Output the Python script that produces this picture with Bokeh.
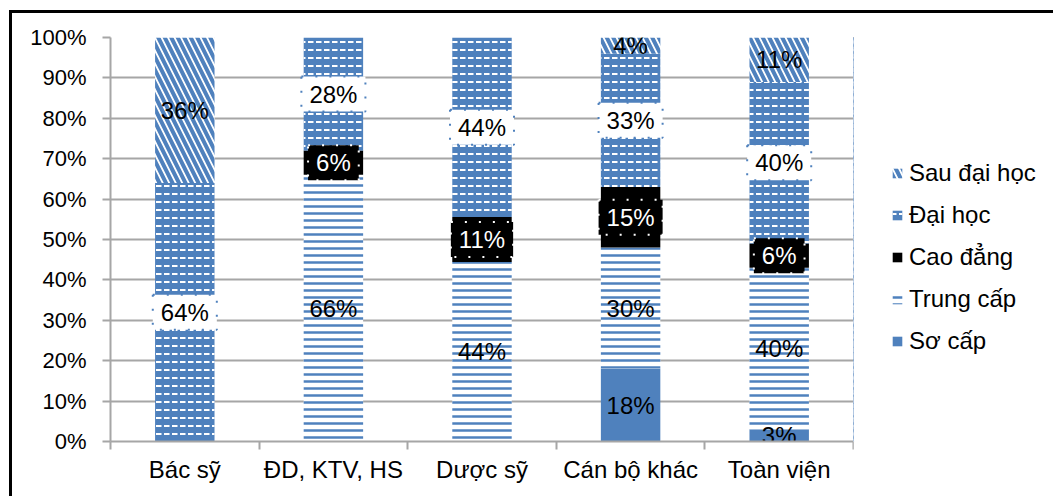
from bokeh.plotting import figure
from bokeh.layouts import row
from bokeh.models import (ColumnDataSource, Range1d, FixedTicker, PrintfTickFormatter,
                          Legend, LegendItem, Grid)
from bokeh.core.properties import value
from bokeh.embed import file_html
from bokeh.resources import INLINE

categories = ["Bác sỹ", "ĐD, KTV, HS", "Dược sỹ", "Cán bộ khác", "Toàn viện"]
so_cap = [0, 0, 0, 18, 3]
trung_cap = [0, 66, 44.4, 30, 40]
cao_dang = [0, 6, 11.2, 15, 6]
dai_hoc = [64, 28, 44.4, 33, 40]
sau_dai_hoc = [36, 0, 0, 4, 11]

series_keys = ["so_cap", "trung_cap", "cao_dang", "dai_hoc", "sau_dai_hoc"]
series_names = ["Sơ cấp", "Trung cấp", "Cao đẳng", "Đại học", "Sau đại học"]
series_vals = [so_cap, trung_cap, cao_dang, dai_hoc, sau_dai_hoc]

BLUE = "#4F81BD"
GRID = "#A6A6A6"
FONT = "Liberation Sans"

xpos = [i + 0.5 for i in range(len(categories))]
data = {"x": xpos}
for k, v in zip(series_keys, series_vals):
    data[k] = v
src = ColumnDataSource(data)

p = figure(width=845, height=483, x_range=Range1d(0, 5), y_range=Range1d(0, 100),
           output_backend="svg", toolbar_location=None,
           min_border_left=98, min_border_right=4, min_border_top=24, min_border_bottom=55)
p.outline_line_color = None
p.background_fill_color = "white"
p.border_fill_color = "white"

styles = dict(
    fill_color=[BLUE, "white", "black", BLUE, "white"],
    hatch_pattern=[None, "horizontal_line", None, "horizontal_dash", "left_diagonal_line"],
    hatch_color=[BLUE, BLUE, "black", "white", BLUE],
    hatch_scale=[8, 7, 8, 8, 13],
    hatch_weight=[1, 2.5, 1, 2, 4],
)
renderers = p.vbar_stack(series_keys, x="x", width=0.4, source=src, line_color=None, **styles)

# data labels
box_pad = dict(left=8, right=8, top=4, bottom=4)
label_cfg = {
    "so_cap": dict(text_color="black"),
    "trung_cap": dict(text_color="black"),
    "cao_dang": dict(text_color="white", background_fill_color="black", padding=box_pad,
                     border_line_color="white", border_line_dash="2 12", border_line_width=2),
    "dai_hoc": dict(text_color="black", background_fill_color="white", padding=box_pad,
                    border_line_color=BLUE, border_line_dash="2 12", border_line_width=2),
    "sau_dai_hoc": dict(text_color="black"),
}
base = [0.0] * len(categories)
for k, v in zip(series_keys, series_vals):
    lx, ly, lt = [], [], []
    for i, val in enumerate(v):
        if val > 0:
            lx.append(xpos[i])
            ly.append(base[i] + val / 2)
            lt.append(f"{round(val)}%")
        base[i] += val
    lsrc = ColumnDataSource(dict(x=lx, y=ly, t=lt))
    p.text(x="x", y="y", text="t", source=lsrc, text_align="center", text_baseline="middle",
           text_font=value(FONT), text_font_size="24px", **label_cfg[k])

# axes
p.xgrid.visible = False
p.ygrid.grid_line_color = GRID
p.ygrid.grid_line_width = 2

ya = p.yaxis[0]
ya.ticker = FixedTicker(ticks=list(range(0, 101, 10)))
ya.formatter = PrintfTickFormatter(format="%d%%")
ya.major_tick_out = 8
ya.major_tick_in = 0
ya.minor_tick_out = 0
ya.minor_tick_in = 0
ya.axis_line_color = GRID
ya.axis_line_width = 2
ya.major_tick_line_color = GRID
ya.major_tick_line_width = 2
ya.major_label_text_font = FONT
ya.major_label_text_font_size = "22px"
ya.major_label_text_color = "black"
ya.major_label_standoff = 16

xa = p.xaxis[0]
xa.ticker = FixedTicker(ticks=xpos, minor_ticks=list(range(0, len(categories) + 1)))
xa.major_label_overrides = {x: c for x, c in zip(xpos, categories)}
xa.major_tick_out = 0
xa.major_tick_in = 0
xa.minor_tick_out = 8
xa.minor_tick_in = 0
xa.minor_tick_line_color = GRID
xa.minor_tick_line_width = 2
xa.axis_line_color = GRID
xa.axis_line_width = 2
xa.major_label_text_font = FONT
xa.major_label_text_font_size = "24px"
xa.major_label_text_color = "black"
xa.major_label_standoff = 6

# legend panel: a second figure whose view range lies away from the bars,
# holding the same stacked renderers only to provide legend swatches
lp = figure(width=200, height=483, x_range=Range1d(100, 101), y_range=Range1d(0, 1),
            output_backend="svg", toolbar_location=None,
            x_axis_location=None, y_axis_location=None,
            min_border_left=0, min_border_right=0, min_border_top=0, min_border_bottom=0)
for g in lp.select({"type": Grid}):
    g.visible = False
lp.outline_line_color = None
lp.background_fill_color = "white"
lp.border_fill_color = "white"
lp.styles = {"margin-left": "-4px"}
lrends = lp.vbar_stack(series_keys, x="x", width=0.4, source=src, line_color=None, **styles)

items = [LegendItem(label=n, renderers=[r]) for n, r in zip(series_names, lrends)][::-1]
legend = Legend(items=items, location=(38, 86))
legend.label_text_font = FONT
legend.label_text_font_size = "24px"
legend.label_text_color = "black"
legend.glyph_width = 12
legend.glyph_height = 12
legend.label_standoff = 6
legend.label_height = 20
legend.spacing = 14
legend.padding = 0
legend.margin = 0
legend.border_line_color = None
legend.background_fill_alpha = 0
lp.add_layout(legend, "center")

layout = row(p, lp)
layout.styles = {"margin-left": "9px", "margin-top": "10px",
                 "border-left": "3px solid black", "border-top": "3px solid black",
                 "background-color": "white"}

open("out.html", "w").write(file_html(layout, INLINE))
